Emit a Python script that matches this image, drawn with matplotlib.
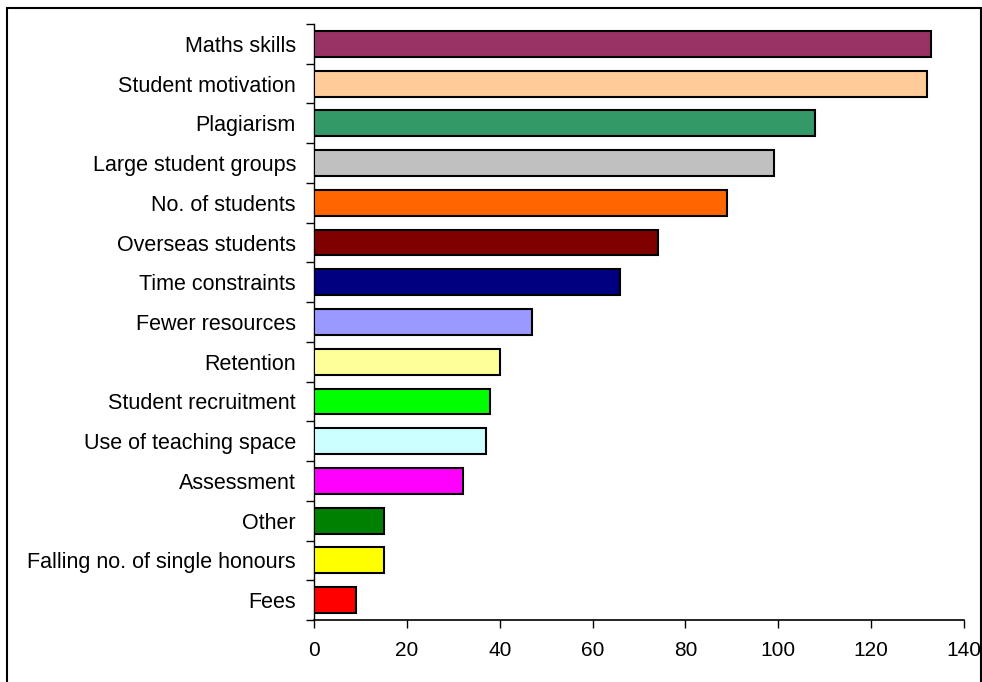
import matplotlib
matplotlib.use("Agg")
import matplotlib.pyplot as plt
from matplotlib.patches import Rectangle

plt.rcParams['font.family'] = ['Liberation Sans', 'DejaVu Sans']

categories = ["Maths skills", "Student motivation", "Plagiarism", "Large student groups",
              "No. of students", "Overseas students", "Time constraints", "Fewer resources",
              "Retention", "Student recruitment", "Use of teaching space", "Assessment",
              "Other", "Falling no. of single honours", "Fees"]
values = [133, 132, 108, 99, 89, 74, 66, 47, 40, 38, 37, 32, 15, 15, 9]
colors = ["#993366", "#FFCC99", "#339966", "#C0C0C0", "#FF6600", "#800000", "#000080",
          "#9999FF", "#FFFF99", "#00FF00", "#CCFFFF", "#FF00FF", "#008000", "#FFFF00",
          "#FF0000"]
xticks = [0, 20, 40, 60, 80, 100, 120, 140]

fig = plt.figure(figsize=(9.82, 6.82), dpi=100)
ax = fig.add_axes([314 / 982, 1 - 620 / 682, 650 / 982, 596 / 682])

n = len(categories)
ypos = list(range(n))[::-1]
ax.barh(ypos, values, height=0.65, color=colors, edgecolor="black", linewidth=1.5, zorder=3)

ax.set_xlim(0, 140)
ax.set_ylim(-0.5, n - 0.5)
ax.set_xticks(xticks)
ax.set_xticklabels([str(t) for t in xticks], fontsize=15)
ax.set_yticks(ypos)
ax.set_yticklabels(categories, fontsize=15.5)
ax.tick_params(axis="y", length=0, pad=13)
ax.tick_params(axis="x", length=6, width=1, pad=9)

# category boundary ticks on the y axis
ax.set_yticks([i - 0.5 for i in range(n + 1)], minor=True)
ax.tick_params(axis="y", which="minor", length=6, width=1)

for s in ["top", "right"]:
    ax.spines[s].set_visible(False)
ax.spines["left"].set_linewidth(1)
ax.spines["bottom"].set_linewidth(1.2)

# outer chart border
fig.patches.append(Rectangle((7 / 982, -0.05), 974 / 982, 1.05 - 8 / 682,
                             transform=fig.transFigure, fill=False,
                             edgecolor="black", linewidth=1.5))

fig.savefig("out.png", dpi=100)
